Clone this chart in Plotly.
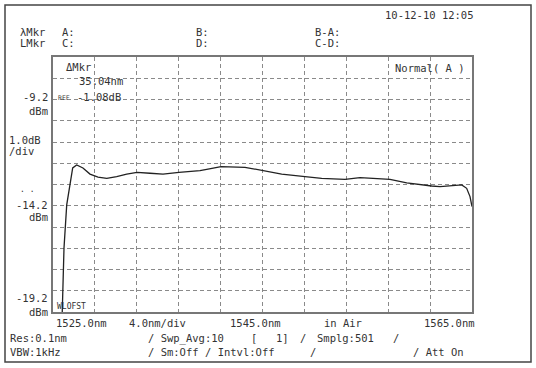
import plotly.graph_objects as go

# Trace data (wavelength nm, level dBm)
wavelength = [1525.86, 1525.95, 1526.05, 1526.31, 1526.62, 1526.88, 1527.26, 1527.86, 1528.53,
              1529.30, 1530.13, 1531.08, 1532.04, 1533.02, 1534.26, 1535.50, 1537.03, 1538.08,
              1539.03, 1539.80, 1541.04, 1543.33, 1544.92, 1546.83, 1549.06, 1550.65, 1552.88,
              1554.31, 1555.55, 1557.17, 1558.77, 1559.72, 1561.15, 1561.95, 1563.19, 1564.02,
              1564.49, 1564.81, 1565.00]
level_dbm = [-19.6, -17.22, -16.19, -14.16, -13.13, -12.42, -12.28, -12.42, -12.71,
             -12.85, -12.91, -12.83, -12.71, -12.63, -12.67, -12.71, -12.63, -12.60,
             -12.55, -12.48, -12.36, -12.39, -12.52, -12.71, -12.83, -12.91, -12.96,
             -12.88, -12.91, -12.96, -13.12, -13.19, -13.27, -13.30, -13.27, -13.22,
             -13.38, -13.77, -14.24]

x_range = [1525.0, 1565.0]
y_range = [-19.2, -7.2]
x_labels = ["1525.0nm", "4.0nm/div", "1545.0nm", "in Air", "1565.0nm"]
y_labels = ["-9.2", "-14.2", "-19.2"]

W, H = 536, 368
L, R, T, B = 53, 472, 57, 312

def px(x):
    return (x - L) / (R - L)

def py(y):
    return (B - y) / (B - T)

fig = go.Figure()
fig.add_trace(go.Scatter(x=wavelength, y=level_dbm, mode="lines",
                         line=dict(color="#222222", width=1.3), hoverinfo="skip",
                         cliponaxis=True))

FONT = "DejaVu Sans Mono"
ann = []

def txt(s, x, y, size=10.5, anchor="left", color="#333333"):
    ann.append(dict(text=s, x=px(x), y=py(y), xref="paper", yref="paper",
                    xanchor=anchor, yanchor="middle", showarrow=False,
                    font=dict(family=FONT, size=size, color=color)))

# header
txt("10-12-10 12:05", 383, 15)
txt("λMkr", 18, 32)
txt("LMkr", 18, 43)
txt("A:", 60, 32)
txt("C:", 60, 43)
txt("B:", 194, 32)
txt("D:", 194, 43)
txt("B-A:", 313, 32)
txt("C-D:", 313, 43)

# inside plot
txt("ΔMkr", 64, 67)
txt("35.04nm", 77, 81)
txt("REF", 56, 98, size=6.5, color="#444444")
txt("-1.08dB", 75, 97)
txt("Normal( A )", 393, 68)
txt("WLOFST", 55, 306, size=8)

# left labels
txt(y_labels[0], 50, 97, anchor="right")
txt("dBm", 50, 111, anchor="right")
txt("1.0dB", 7, 140)
txt("/div", 7, 151)
txt(". .", 18, 190, size=8)
txt(y_labels[1], 50, 205, anchor="right")
txt("dBm", 50, 217, anchor="right")
txt(y_labels[2], 50, 298, anchor="right")
txt("dBm", 50, 312, anchor="right")

# bottom axis labels
txt(x_labels[0], 54, 323)
txt(x_labels[1], 127, 323)
txt(x_labels[2], 228, 323)
txt(x_labels[3], 322, 323)
txt(x_labels[4], 422, 323)

# bottom status rows
txt("Res:0.1nm", 8, 338)
txt("/ Swp_Avg:10", 146, 338)
txt("[", 249, 338)
txt("1]", 274, 338)
txt("/", 298, 338)
txt("Smplg:501", 315, 338)
txt("/", 391, 338)
txt("VBW:1kHz", 8, 352)
txt("/ Sm:Off", 146, 352)
txt("/ Intvl:Off", 203, 352)
txt("/", 308, 352)
txt("/ Att On", 411, 352)

shapes = [
    # outer frame
    dict(type="rect", xref="paper", yref="paper",
         x0=px(5), x1=px(531), y0=py(362), y1=py(5),
         line=dict(color="#444444", width=1.5), layer="below"),
]

fig.update_layout(
    width=W, height=H,
    margin=dict(l=L, r=W - R, t=T, b=H - B, pad=0),
    paper_bgcolor="white", plot_bgcolor="white",
    showlegend=False,
    annotations=ann, shapes=shapes,
    xaxis=dict(range=x_range, dtick=4, tick0=1525, showticklabels=False,
               showgrid=True, gridcolor="#8a8a8a", griddash="4px,3px", gridwidth=1,
               showline=True, linecolor="#777777", linewidth=1.5, mirror=True,
               zeroline=False, ticks=""),
    yaxis=dict(range=y_range, dtick=1, tick0=-19.2, showticklabels=False,
               showgrid=True, gridcolor="#8a8a8a", griddash="4px,3px", gridwidth=1,
               showline=True, linecolor="#777777", linewidth=1.5, mirror=True,
               zeroline=False, ticks=""),
)

fig.write_html("out.html")
